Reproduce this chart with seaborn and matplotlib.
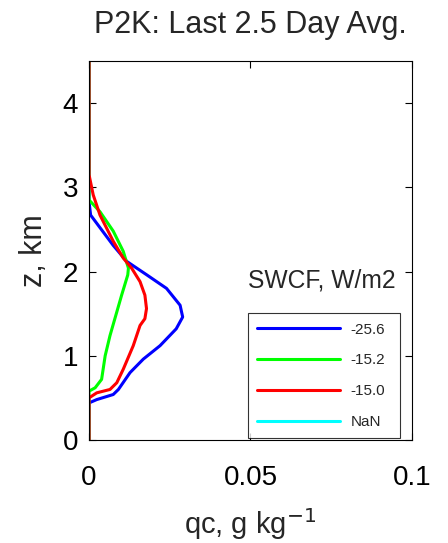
import matplotlib
matplotlib.use("Agg")
import matplotlib.pyplot as plt
from matplotlib.lines import Line2D
import numpy as np
import pandas as pd
import seaborn as sns

# Cloud liquid water profiles (qc in g/kg) against height (km)
z_blue = [4.5, 2.83, 2.67, 2.31, 2.12, 1.96, 1.80, 1.60, 1.46, 1.32, 1.12, 0.96, 0.80, 0.60, 0.54, 0.48, 0.44, 0.0]
qc_blue = [0.0, 0.0, 0.0005, 0.0075, 0.0117, 0.0179, 0.0240, 0.0282, 0.0290, 0.0270, 0.0220, 0.0168, 0.0127, 0.0091, 0.0075, 0.0024, 0.0, 0.0]

z_green = [4.5, 2.85, 2.71, 2.48, 2.24, 2.04, 1.96, 1.72, 1.52, 1.24, 1.00, 0.72, 0.62, 0.58, 0.0]
qc_green = [0.0, 0.0, 0.0034, 0.0075, 0.0106, 0.0122, 0.0120, 0.0101, 0.0086, 0.0065, 0.0050, 0.0039, 0.0019, 0.0, 0.0]

z_red = [4.5, 3.15, 2.91, 2.67, 2.36, 2.16, 2.04, 1.88, 1.72, 1.56, 1.44, 1.36, 1.12, 0.84, 0.68, 0.60, 0.56, 0.50, 0.0]
qc_red = [0.0, 0.0, 0.0013, 0.0034, 0.0075, 0.0106, 0.0132, 0.0158, 0.0173, 0.0178, 0.0173, 0.0158, 0.0137, 0.0106, 0.0086, 0.0065, 0.0024, 0.0, 0.0]

series_labels = ["-25.6", "-15.2", "-15.0", "NaN"]
series_colors = ["#0000ff", "#00ff00", "#ff0000", "#00ffff"]

x_ticks = [0, 0.05, 0.1]
x_ticklabels = ["0", "0.05", "0.1"]
y_ticks = [0, 1, 2, 3, 4]

sns.set_style("white")
plt.rcParams["font.family"] = ["Liberation Sans", "DejaVu Sans"]

fig = plt.figure(figsize=(4.48, 5.43), dpi=100)
ax = fig.add_axes([0.1987, 0.1897, 0.7209, 0.698])

profiles = [(qc_blue, z_blue), (qc_green, z_green), (qc_red, z_red)]
for (qc, z), col in zip(profiles, series_colors):
    df = pd.DataFrame({"qc": qc, "z": z})
    sns.lineplot(data=df, x="qc", y="z", sort=False, estimator=None,
                 color=col, lw=2.2, ax=ax)

ax.set_xlim(0, 0.1)
ax.set_ylim(0, 4.5)
ax.set_xticks(x_ticks)
ax.set_xticklabels(x_ticklabels)
ax.set_yticks(y_ticks)
ax.tick_params(axis="both", direction="in", length=5, width=0.8, labelsize=20,
               top=True, right=True, bottom=True, left=True, colors="black",
               pad=8)
ax.tick_params(axis="x", pad=18)
for s in ax.spines.values():
    s.set_visible(True)
    s.set_color("black")
    s.set_linewidth(0.8)

ax.set_xlabel("qc, g kg$^{-1}$", fontsize=21, labelpad=11)
ax.set_ylabel("z, km", fontsize=22, labelpad=10)
ax.set_title("P2K: Last 2.5 Day Avg.", fontsize=22, pad=20)

handles = [Line2D([0], [0], color=c, lw=2.2) for c in series_colors]
leg = ax.legend(handles, series_labels, loc="lower left",
                bbox_to_anchor=(0.492, 0.005, 0.471, 0.333), mode="expand",
                fontsize=11, frameon=True, fancybox=False, handlelength=5.4,
                labelspacing=1.1, borderpad=0.6, handletextpad=0.7,
                borderaxespad=0)
leg.get_frame().set_edgecolor("black")
leg.get_frame().set_linewidth(0.8)

ax.text(0.72, 0.422, "SWCF, W/m2", transform=ax.transAxes, fontsize=17.7,
        ha="center", va="center")

fig.savefig("out.png", dpi=100)
